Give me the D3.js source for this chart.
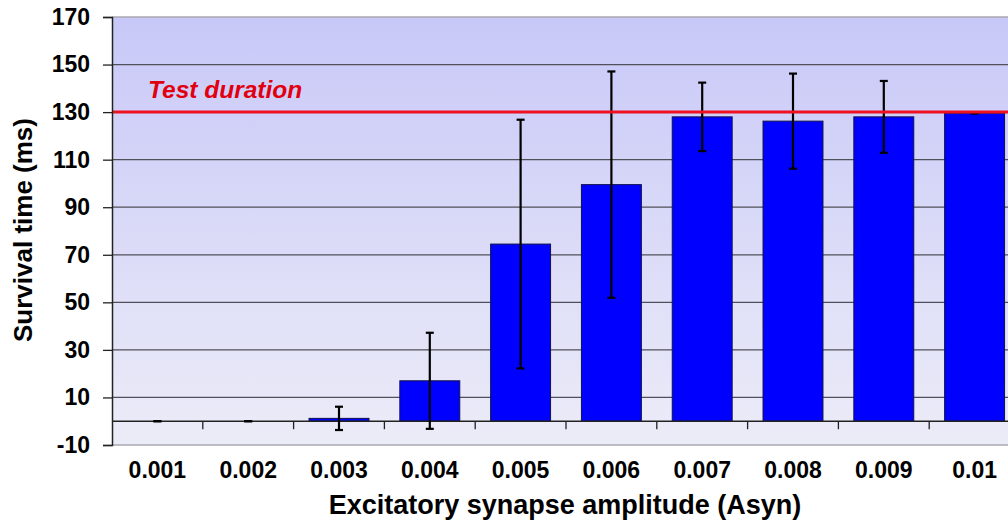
<!DOCTYPE html>
<html>
<head>
<meta charset="utf-8">
<script src="https://cdn.jsdelivr.net/npm/d3@7"></script>
<style>
  body { margin: 0; background: #fff; overflow: hidden; }
  text { font-family: "Liberation Sans", Arial, sans-serif; font-weight: bold; }
</style>
</head>
<body>
<div id="chart-area"></div>
<script>
// data
var amplitudes = ["0.001", "0.002", "0.003", "0.004", "0.005", "0.006", "0.007", "0.008", "0.009", "0.01"];
var survival = [0, 0, 1.2, 17, 74.5, 99.5, 128, 126.2, 128, 129.5];
var errors = [0, 0, 4.9, 20.2, 52.3, 47.6, 14.4, 20, 15.1, 0];
var yTicks = [-10, 10, 30, 50, 70, 90, 110, 130, 150, 170];
var testDuration = 130;

var margin = {left: 112, right: -12, top: 17, bottom: 81};
var width = 1008 - margin.left - margin.right;
var height = 526 - margin.top - margin.bottom;

var svg = d3.select("#chart-area").append("svg")
    .attr("width", 1008)
    .attr("height", 526);

var defs = svg.append("defs");
var grad = defs.append("linearGradient")
    .attr("id", "bg")
    .attr("x1", 0).attr("y1", 0).attr("x2", 0).attr("y2", 1);
grad.append("stop").attr("offset", "0%").attr("stop-color", "#c8c8f8");
grad.append("stop").attr("offset", "100%").attr("stop-color", "#ececf8");

var g = svg.append("g")
    .attr("transform", "translate(" + margin.left + "," + margin.top + ")");

var x = d3.scaleBand()
    .domain(amplitudes)
    .range([0, width])
    .paddingInner(0.34)
    .paddingOuter(0.17);

var y = d3.scaleLinear()
    .domain([-10, 170])
    .range([height, 0]);

// plot background
g.append("rect")
    .attr("width", width)
    .attr("height", height)
    .attr("fill", "url(#bg)");

// grid lines
g.selectAll(".grid")
    .data(yTicks.filter((d) => d > -10 && d < 170))
    .enter()
    .append("line")
    .attr("class", "grid")
    .attr("x1", 0)
    .attr("x2", width)
    .attr("y1", (d) => y(d))
    .attr("y2", (d) => y(d))
    .attr("stroke", "#50505a")
    .attr("stroke-width", 1.3);

// top and bottom borders
g.append("line")
    .attr("x1", 0).attr("x2", width)
    .attr("y1", y(170)).attr("y2", y(170))
    .attr("stroke", "#a8a8b0").attr("stroke-width", 1.5);
g.append("line")
    .attr("x1", 0).attr("x2", width)
    .attr("y1", y(-10)).attr("y2", y(-10))
    .attr("stroke", "#a8a8b0").attr("stroke-width", 1.5);

// bars
g.selectAll(".bar")
    .data(survival)
    .enter()
    .append("rect")
    .attr("class", "bar")
    .attr("x", (d, i) => x(amplitudes[i]))
    .attr("y", (d) => y(d))
    .attr("width", x.bandwidth())
    .attr("height", (d) => y(0) - y(d))
    .attr("fill", "#0000ff")
    .attr("stroke", "#10104a")
    .attr("stroke-width", 1);

// zero axis with category ticks
g.append("line")
    .attr("x1", 0).attr("x2", width)
    .attr("y1", y(0)).attr("y2", y(0))
    .attr("stroke", "#222").attr("stroke-width", 1.5);

g.selectAll(".xtick")
    .data(amplitudes.slice(1))
    .enter()
    .append("line")
    .attr("class", "xtick")
    .attr("x1", (d) => x(d) - x.step() * x.paddingInner() / 2)
    .attr("x2", (d) => x(d) - x.step() * x.paddingInner() / 2)
    .attr("y1", y(0))
    .attr("y2", y(0) + 8)
    .attr("stroke", "#222")
    .attr("stroke-width", 1.3);

// error bars
var err = g.selectAll(".err")
    .data(survival)
    .enter()
    .append("g")
    .attr("class", "err")
    .attr("transform", (d, i) => "translate(" + (x(amplitudes[i]) + x.bandwidth() / 2) + ",0)");

err.append("line")
    .attr("y1", (d, i) => y(d + errors[i]))
    .attr("y2", (d, i) => y(d - errors[i]))
    .attr("stroke", "#000")
    .attr("stroke-width", 2.2);
err.append("line")
    .attr("x1", -4).attr("x2", 4)
    .attr("y1", (d, i) => y(d + errors[i]))
    .attr("y2", (d, i) => y(d + errors[i]))
    .attr("stroke", "#000").attr("stroke-width", 2.2);
err.append("line")
    .attr("x1", -4).attr("x2", 4)
    .attr("y1", (d, i) => y(d - errors[i]))
    .attr("y2", (d, i) => y(d - errors[i]))
    .attr("stroke", "#000").attr("stroke-width", 2.2);

// test duration line
g.append("line")
    .attr("x1", 0).attr("x2", width)
    .attr("y1", y(testDuration)).attr("y2", y(testDuration))
    .attr("stroke", "#ee1122")
    .attr("stroke-width", 3);

g.append("text")
    .attr("x", 36)
    .attr("y", y(testDuration) - 14)
    .attr("fill", "#e00010")
    .attr("font-size", "24.5px")
    .attr("font-style", "italic")
    .text("Test duration");

// y axis
var yAxisCall = d3.axisLeft(y)
    .tickValues(yTicks)
    .tickFormat((d) => String(d))
    .tickSize(9)
    .tickPadding(13);

var yAxis = g.append("g")
    .attr("class", "y axis")
    .call(yAxisCall);
yAxis.select(".domain").attr("stroke", "#222").attr("stroke-width", 1.5);
yAxis.selectAll(".tick line").attr("stroke", "#222").attr("stroke-width", 1.3);
yAxis.selectAll(".tick text")
    .attr("font-size", "23px")
    .attr("font-family", "'Liberation Sans', Arial, sans-serif")
    .attr("font-weight", "bold")
    .attr("fill", "#000");

// x labels
g.selectAll(".xlabel")
    .data(amplitudes)
    .enter()
    .append("text")
    .attr("class", "xlabel")
    .attr("x", (d) => x(d) + x.bandwidth() / 2)
    .attr("y", height + 33)
    .attr("text-anchor", "middle")
    .attr("font-size", "23px")
    .text((d) => d);

// X Label
svg.append("text")
    .attr("x", 565)
    .attr("y", 514)
    .attr("font-size", "27px")
    .attr("text-anchor", "middle")
    .text("Excitatory synapse amplitude (Asyn)");

// Y Label
svg.append("text")
    .attr("x", -230)
    .attr("y", 32)
    .attr("font-size", "26px")
    .attr("text-anchor", "middle")
    .attr("transform", "rotate(-90)")
    .text("Survival time (ms)");
</script>
</body>
</html>
